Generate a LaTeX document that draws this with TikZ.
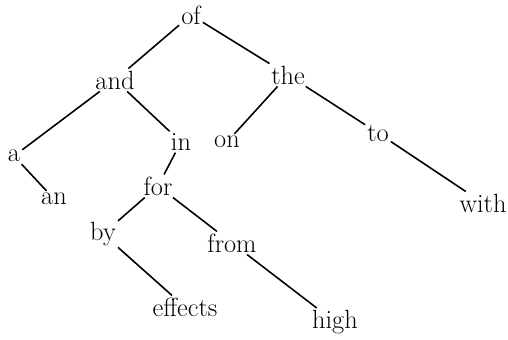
\documentclass[tikz,border=0pt]{standalone}
\begin{document}
\begin{tikzpicture}[x=0.02cm,y=-0.02cm,line width=0.9pt,
        every node/.style={font=\fontsize{15}{18}\selectfont, inner sep=0.8pt}]
        \useasboundingbox (0,0) rectangle (508,339);
        \node (of) at (191,15) {of};
        \node (and) at (115,80) {and};
        \node (the) at (288,75) {the};
        \node (a) at (14,156) {a};
        \node (in) at (181,142) {in};
        \node (on) at (227,142) {on};
        \node (to) at (378,133) {to};
        \node (an) at (54,199) {an};
        \node (for) at (158,186) {for};
        \node (with) at (483,203) {with};
        \node (by) at (103,234) {by};
        \node (from) at (232,243) {from};
        \node (effects) at (185,307) {effects};
        \node (high) at (335,322) {high};
        
        
        \draw (of) -- (and);
        \draw (of) -- (the);
        \draw (and) -- (a);
        \draw (and) -- (in);
        \draw (a) -- (an);
        \draw (in) -- (for);
        \draw (for) -- (by);
        \draw (for) -- (from);
        \draw (by) -- (effects);
        \draw (from) -- (high);
        \draw (the) -- (on);
        \draw (the) -- (to);
        \draw (to) -- (with);
    \end{tikzpicture}
\end{document}
